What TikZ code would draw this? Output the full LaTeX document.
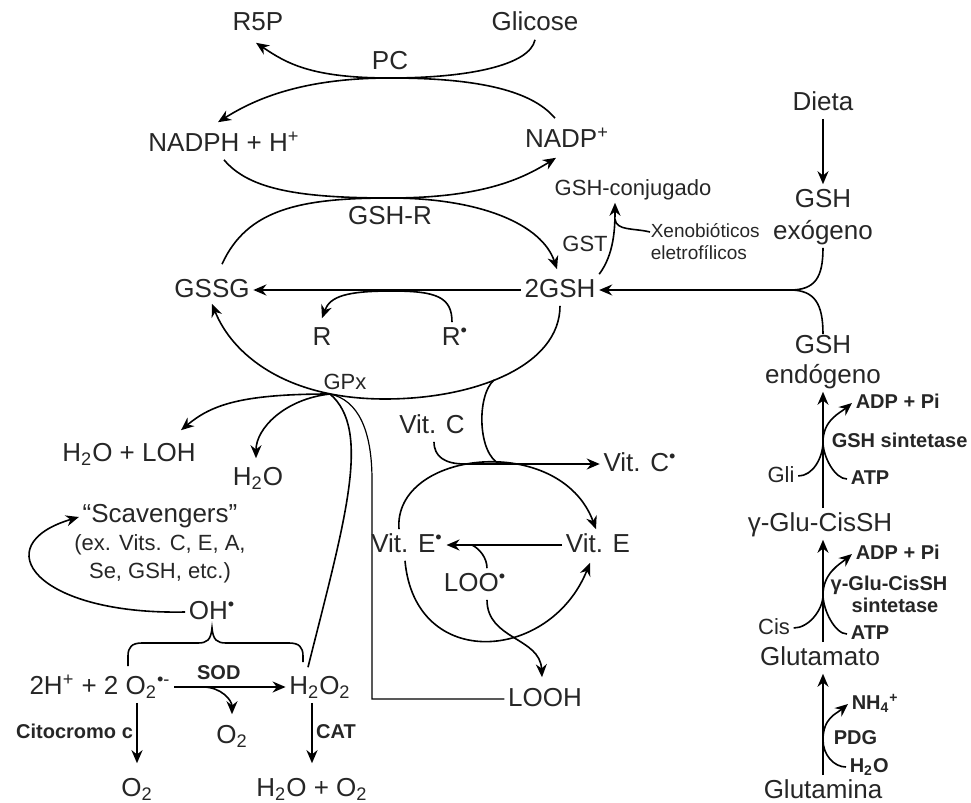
\documentclass[tikz,border=0pt]{standalone}
\usepackage{fontspec}
\setmainfont{Liberation Sans}
\usetikzlibrary{arrows.meta}

\begin{document}
\begin{tikzpicture}[x=0.5pt, y=-0.5pt, line width=0.8pt,
        arr/.style={-{Stealth[length=6.5pt,width=5.5pt]}},
        lbl/.style={font=\fontsize{13}{15}\selectfont, text=black!85, inner sep=1.5pt, text height=9.5pt, text depth=2.5pt},
        sml/.style={font=\fontsize{11}{13}\selectfont, text=black!85, inner sep=1.5pt, text height=8pt, text depth=2pt},
        enz/.style={font=\fontsize{10}{12}\selectfont\bfseries, text=black!85, inner sep=1.5pt, text height=7.3pt, text depth=2pt},
        xenolbl/.style={font=\fontsize{9.5}{11}\selectfont, text=black!85, align=left, inner sep=0pt}]
        \useasboundingbox (0,0) rectangle (971,803);

        % we draw the pentose cycle on top
        \node[lbl] (r5p) at (258,24) {R5P};
        \node[lbl] (glicose) at (535,24) {Glicose};
        \node[lbl] (pc) at (390,62) {PC};
        \coordinate (pcpt) at (390,78);
        \node[lbl] (nadph) at (224,144) {NADPH + H\textsuperscript{+}};
        \node[lbl] (nadp) at (567,140) {NADP\textsuperscript{+}};
        \coordinate (gshrpt) at (390,198);
        \node[lbl] (gshr) at (390,217) {GSH-R};

        \draw[arr] (glicose.south) .. controls +(-5,25) and +(80,0) .. (pcpt) .. controls +(-80,0) and +(30,20) .. ([shift={(-1pt,-1.5pt)}]r5p.south);
        \draw[arr] ([shift={(-6pt,3pt)}]nadp.north) .. controls +(-25,-30) and +(80,0) .. (pcpt) .. controls +(-90,0) and +(35,-22) .. ([shift={(-3pt,3pt)}]nadph.north);
        \draw[arr] (nadph.south) .. controls +(25,30) and +(-90,0) .. (gshrpt) .. controls +(90,0) and +(-35,22) .. ([shift={(-5.5pt,-1pt)}]nadp.south);

        % we draw the glutathione cycle
        \node[lbl] (gssg) at (212,290) {GSSG};
        \node[lbl] (gsh2) at (560,290) {2GSH};
        \node[lbl] (r) at (322,338) {R};
        \node[lbl] (rdot) at (455,338) {R\textsuperscript{•}};
        \node[sml] (gpx) at (345,383) {GPx};
        \coordinate (rpt) at (392,291);
        \coordinate (gpxpt) at (330,394);
        \coordinate (vcpt) at (494,380);

        \draw[arr] ([shift={(5pt,5pt)}]gssg.north) .. controls +(25,-55) and +(-90,0) .. (gshrpt) .. controls +(90,0) and +(-15,-45) .. ([shift={(-1.5pt,2.5pt)}]gsh2.north);
        \draw[arr, line width=1.3pt] (gsh2.west) -- (gssg.east);
        \draw[arr] ([xshift=-1.5pt]rdot.north) .. controls +(0,-25) and +(45,0) .. (rpt) .. controls +(-45,0) and +(8,-22) .. ([yshift=2pt]r.north);
        \draw[arr] (gsh2.south) .. controls +(0,60) and +(90,0) .. (385,399) .. controls +(-100,0) and +(20,50) .. ([yshift=1pt]gssg.south);

        % we draw the GPx products
        \node[lbl] (h2oloh) at (129,454) {H\textsubscript{2}O + LOH};
        \node[lbl] (h2o) at (258,478) {H\textsubscript{2}O};
        \node[lbl] (h2o2) at (320,687) {H\textsubscript{2}O\textsubscript{2}};
        \node[lbl] (looh) at (545,699) {LOOH};
        \draw[arr] (gpxpt) .. controls +(-90,0) and +(30,-25) .. ([shift={(26pt,4pt)}]h2oloh.north);
        \draw[arr] (gpxpt) .. controls +(-45,5) and +(0,-30) .. ([shift={(-1pt,2pt)}]h2o.north);
        \draw (gpxpt) .. controls (372,430) and (345,520) .. ([shift={(-6pt,2pt)}]h2o2.north);
        \draw[line width=0.6pt] (gpxpt) .. controls (358,400) and (372,430) .. (372,480) |- (looh.west);

        % we draw the vitamin C and E loop
        \node[lbl] (vitc) at (432,426) {Vit. C};
        \node[lbl] (vitcdot) at (640,464) {Vit. C\textsuperscript{•}};
        \node[lbl] (vitedot) at (407,545) {Vit. E\textsuperscript{•}};
        \node[lbl] (vite) at (598,545) {Vit. E};
        \node[lbl] (loo) at (475,584) {LOO\textsuperscript{•}};
        \coordinate (vcj) at (465,464);
        \coordinate (vcj2) at (500,464);
        \coordinate (loopt) at (472,545);

        \draw[arr] ([xshift=1pt]vitc.south) .. controls +(0,15) and +(-20,0) .. (vcj) -- (vitcdot.west);
        \draw (vcpt) .. controls (476,396) and (478,455) .. (vcj2);
        \draw[arr] ([xshift=-4pt]vitedot.north) .. controls (393,450) and (560,432) .. ([xshift=-1pt]vite.north);
        \draw[arr] ([xshift=-1pt]vitedot.south) .. controls (415,672) and (550,662) .. ([shift={(-4pt,-1pt)}]vite.south);
        \draw[arr, line width=1pt] (vite.west) -- (vitedot.east);
        \draw ([xshift=6pt]loo.north) .. controls +(0,-10) and +(8,4) .. (loopt);
        \draw[arr] ([xshift=6pt]loo.south) .. controls +(0,40) and +(-2,-40) .. ([shift={(-1.5pt,3pt)}]looh.north);

        % we draw the scavengers and the radicals
        \node[lbl] (scav) at (160,515) {“Scavengers”};
        \node[sml] (scavex) at (160,544) {(ex. Vits. C, E, A,};
        \node[sml] (scavse) at (160,572) {Se, GSH, etc.)};
        \node[lbl] (ohdot) at (212,612) {OH\textsuperscript{•}};
        \draw[arr] (ohdot.west) .. controls +(-150,3) and +(-94,28) .. ([yshift=-1pt]scav.west);
        \draw (128,666) -- (128,656) .. controls (128,647) and (132,643) .. (142,643) -- (198,643) .. controls (207,643) and (211,640) .. (ohdot.south) .. controls (213,640) and (217,643) .. (226,643) -- (289,643) .. controls (299,643) and (303,647) .. (303,656) -- (303,662);

        \node[lbl] (o2rad) at (100,687) {2H\textsuperscript{+} + 2 O\textsubscript{2}\textsuperscript{•-}};
        \node[lbl] (o2mid) at (232,736) {O\textsubscript{2}};
        \node[lbl] (o2bot) at (137,789) {O\textsubscript{2}};
        \node[lbl] (h2oo2) at (312,789) {H\textsubscript{2}O + O\textsubscript{2}};
        \coordinate (sodpt) at (203,687);
        \draw[arr] (o2rad.east) -- (h2o2.west) node[enz, pos=0.4, above] (sod) {SOD};
        \draw[arr] (sodpt) .. controls +(18,0) and +(0,-14) .. ([yshift=3pt]o2mid.north);
        \draw[arr, line width=1.1pt] (o2bot.north |- o2rad.south) -- ([yshift=5pt]o2bot.north) node[enz, midway, left] (cito) {Citocromo c};
        \draw[arr, line width=1.1pt] (h2oo2.north |- h2o2.south) -- ([yshift=5pt]h2oo2.north) node[enz, midway, right] (cat) {CAT};

        % we draw the conjugation with GST
        \node[sml] (gshconj) at (633,189) {GSH-conjugado};
        \node[sml] (gst) at (585,245) {GST};
        \node[xenolbl, anchor=west] (xeno) at (650,242) {Xenobióticos\\eletrofílicos};
        \coordinate (gstpt) at (615,219);
        \draw[arr] (gsh2.north east) .. controls +(15,-20) and +(0,25) .. ([xshift=-9pt]gshconj.south);
        \draw ([yshift=5pt]xeno.west) .. controls +(-16,-4) and +(1,12) .. (gstpt);

        % we draw the GSH sources on the right
        \coordinate (colx) at (823,0);
        \node[lbl] (dieta) at (823,103) {Dieta};
        \node[lbl] (gshexo) at (823,200) {GSH};
        \node[lbl] (exogeno) at (823,232) {exógeno};
        \node[lbl] (gshendo) at (823,346) {GSH};
        \node[lbl] (endogeno) at (823,376) {endógeno};
        \coordinate (gshj) at (790,290);
        \draw[arr] (dieta) -- (gshexo);
        \draw (exogeno.south) .. controls +(0,30) and +(25,0) .. (gshj);
        \draw[arr] (gshj) -- (gsh2.east);
        \draw (gshj) .. controls +(25,0) and +(0,-30) .. ([yshift=-2pt]gshendo.north);

        % we draw the GSH synthesis
        \node[lbl] (gglu) at (820,524) {γ-Glu-CisSH};
        \node[lbl] (glutamato) at (820,658) {Glutamato};
        \node[lbl] (glutamina) at (823,791) {Glutamina};
        \draw[arr] (colx |- gglu.north) -- (colx |- endogeno.south);
        \draw[arr] (colx |- glutamato.north) -- (colx |- gglu.south);
        \draw[arr] (colx |- glutamina.north) -- (colx |- glutamato.south);

        \node[enz, anchor=west] (adp1) at (852,403) {ADP + Pi};
        \node[enz, anchor=west] (gshsin) at (828,442) {GSH sintetase};
        \node[sml] (gli) at (781,476) {Gli};
        \node[enz, anchor=west] (atp1) at (847,479) {ATP};
        \coordinate (synj1) at (823,442);
        \draw[arr] (gli.east) .. controls +(15,0) and +(0,15) .. (synj1) .. controls +(0,-22) and +(-12,10) .. (adp1.west);
        \draw (atp1.west) .. controls +(-12,0) and +(0,15) .. (synj1);

        \node[enz, anchor=west] (adp2) at (852,554) {ADP + Pi};
        \node[enz] (gglusin) at (889,585) {γ-Glu-CisSH};
        \node[enz] (gglusin2) at (895,607) {sintetase};
        \node[sml] (cis) at (774,628) {Cis};
        \node[enz, anchor=west] (atp2) at (847,634) {ATP};
        \coordinate (synj2) at (823,595);
        \draw[arr] (cis.east) .. controls +(15,0) and +(0,15) .. (synj2) .. controls +(0,-22) and +(-12,10) .. (adp2.west);
        \draw (atp2.west) .. controls +(-12,0) and +(0,15) .. (synj2);

        \node[enz, anchor=west] (nh4) at (848,704) {NH\textsubscript{4}\textsuperscript{+}};
        \node[enz, anchor=west] (pdg) at (830,739) {PDG};
        \node[enz, anchor=west] (h2or) at (846,767) {H\textsubscript{2}O};
        \coordinate (synj3) at (823,740);
        \draw[arr] (h2or.west) .. controls +(-12,0) and +(0,15) .. (synj3) .. controls +(0,-22) and +(-12,10) .. (nh4.west);
\end{tikzpicture}
\end{document}
